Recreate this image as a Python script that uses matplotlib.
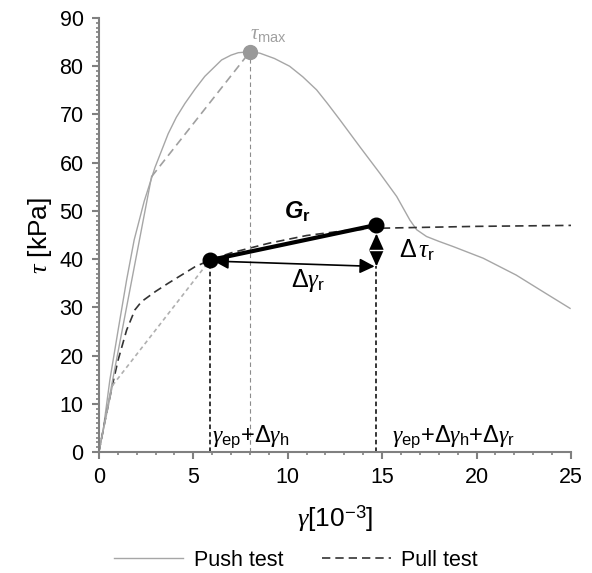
import matplotlib.pyplot as plt
from matplotlib.lines import Line2D

plt.rcParams['font.family'] = ['Liberation Sans', 'DejaVu Sans']
plt.rcParams['mathtext.fontset'] = 'custom'
plt.rcParams['mathtext.rm'] = 'Liberation Sans'
plt.rcParams['mathtext.it'] = 'Liberation Serif:italic'
plt.rcParams['mathtext.bf'] = 'Liberation Sans:bold'
plt.rcParams['mathtext.bfit'] = 'Liberation Sans:italic:bold'

# push test curve (gamma [1e-3], tau [kPa])
push_x = [0, 0.23, 0.58, 1.02, 1.47, 1.87, 2.4, 2.97, 3.67, 4.1, 4.56, 5.1, 5.61, 6.5,
          7.0, 7.38, 8.0, 8.53, 9.3, 10.1, 10.8, 11.53, 12.1, 12.76, 13.82, 14.88,
          15.77, 16.47, 16.83, 17.35, 18.0, 18.77, 20.35, 22.1, 23.5, 24.95]
push_y = [0, 4.6, 14.9, 25.3, 35.7, 44.0, 52.0, 59.0, 66.0, 69.4, 72.3, 75.3, 77.9, 81.3,
          82.3, 82.8, 83.0, 82.7, 81.6, 80.0, 77.8, 75.1, 72.3, 68.9, 63.3, 57.8,
          53.0, 48.1, 46.1, 44.7, 43.7, 42.6, 40.2, 36.7, 33.3, 29.8]

# pull test curve
pull_x = [0, 0.3, 0.7, 1.02, 1.47, 1.91, 2.26, 3.0, 3.67, 5.08, 5.88, 7.0, 9.0, 11.0,
          13.0, 14.7, 15.94, 20.0, 25.0]
pull_y = [0, 6, 13.6, 19.1, 25.3, 29.5, 31.2, 33.3, 35.0, 38.4, 39.8, 41.3, 43.3, 44.9,
          45.9, 46.4, 46.5, 46.8, 47.0]

# characteristic points
tau_max = (8.0, 83.0)
knee_push = (2.79, 57.1)
knee_pull = (0.72, 13.8)
p1 = (5.88, 39.8)
p2 = (14.7, 47.1)
dgr_end = 38.5

fig = plt.figure(figsize=(5.92, 5.73), dpi=100)
ax = fig.add_axes([0.167, 0.211, 0.7975, 0.7576])

ax.plot(push_x, push_y, color='#a6a6a6', lw=1.0, zorder=2)
ax.plot(pull_x, pull_y, color='#333333', lw=1.2, ls=(0, (5, 3)), zorder=2)

# bilinear approximations
ax.plot([0, knee_push[0]], [0, knee_push[1]], color='#a6a6a6', lw=1.0, zorder=2)
ax.plot([knee_push[0], tau_max[0]], [knee_push[1], tau_max[1]], color='#a0a0a0',
        lw=1.2, ls=(0, (5, 3)), zorder=2)
ax.plot([0, knee_pull[0]], [0, knee_pull[1]], color='#a6a6a6', lw=1.0, zorder=2)
ax.plot([knee_pull[0], p1[0]], [knee_pull[1], p1[1]], color='#b0b0b0',
        lw=1.2, ls=(0, (2.5, 2)), zorder=2)

# vertical guide lines
ax.plot([tau_max[0], tau_max[0]], [0, tau_max[1]], color='#8c8c8c', lw=0.8,
        ls=(0, (4, 3)), zorder=2)
ax.plot([p1[0], p1[0]], [0, p1[1]], color='black', lw=1.1, ls=(0, (3, 2)), zorder=2)
ax.plot([p2[0], p2[0]], [0, dgr_end], color='black', lw=1.1, ls=(0, (3, 2)), zorder=2)

# G_r secant
ax.plot([p1[0], p2[0]], [p1[1], p2[1]], color='black', lw=3.0, zorder=3,
        solid_capstyle='round')
ax.plot([p1[0], p2[0]], [p1[1], p2[1]], 'o', color='black', ms=10.5, zorder=4)
ax.plot([tau_max[0]], [tau_max[1]], 'o', color='#999999', ms=10, zorder=4)

# arrows
astyle = dict(arrowstyle='<|-|>,head_length=0.9,head_width=0.45', color='black',
              lw=1.2, mutation_scale=10, shrinkA=0, shrinkB=0)
ax.annotate('', xy=(p2[0] - 0.1, dgr_end), xytext=(p1[0] + 0.2, 39.6), arrowprops=astyle)
ustyle = dict(arrowstyle='-|>,head_length=1.0,head_width=0.45', color='black',
              lw=1.2, mutation_scale=10, shrinkA=0, shrinkB=0)
ax.annotate('', xy=(p2[0], 45.3), xytext=(p2[0], 42.0), arrowprops=ustyle)
ax.annotate('', xy=(p2[0], dgr_end), xytext=(p2[0], 42.0), arrowprops=ustyle)
ax.plot([p2[0] - 0.35, p2[0] + 0.35], [42.0, 42.0], color='white', lw=1.0, zorder=5)

# labels
ax.text(9.0, 86.5, r'$\tau_{\mathrm{max}}$', color='#a0a0a0', fontsize=15,
        ha='center', va='center')
ax.text(10.5, 49.8, r'$\mathbfit{G}_{\mathbf{r}}$', fontsize=17, ha='center', va='center')
ax.text(11.1, 35.5, r'$\Delta\gamma_{\mathrm{r}}$', fontsize=18, ha='center', va='center')
ax.text(15.9, 41.8, r'$\Delta\,\tau_{\mathrm{r}}$', fontsize=18, ha='left', va='center')
ax.text(6.0, 3.2, r'$\gamma_{\mathrm{ep}}$+$\Delta\gamma_{\mathrm{h}}$', fontsize=17,
        ha='left', va='center')
ax.text(15.5, 3.2, r'$\gamma_{\mathrm{ep}}$+$\Delta\gamma_{\mathrm{h}}$+$\Delta\gamma_{\mathrm{r}}$',
        fontsize=17, ha='left', va='center')

ax.set_xlim(0, 25)
ax.set_ylim(0, 90)
ax.set_xticks(range(0, 26, 5))
ax.set_xticks(range(0, 26), minor=True)
ax.set_yticks(range(0, 91, 10))
ax.set_yticks(range(0, 91), minor=True)

for s in ['top', 'right']:
    ax.spines[s].set_visible(False)
for s in ['left', 'bottom']:
    ax.spines[s].set_color('#808080')
    ax.spines[s].set_linewidth(1.5)
ax.tick_params(which='major', length=5, width=1.5, color='#808080', labelsize=15.5, pad=6)
ax.tick_params(which='minor', length=2.5, width=1.2, color='#808080')

ax.set_xlabel(r'$\gamma$[10$^{-3}$]', fontsize=19, labelpad=11)
ax.set_ylabel(r'$\tau$ [kPa]', fontsize=19, labelpad=4)

handles = [Line2D([], [], color='#a6a6a6', lw=1.0),
           Line2D([], [], color='#333333', lw=1.2, ls=(0, (5, 3)))]
fig.legend(handles, ['Push test', 'Pull test'], loc='lower center',
           bbox_to_anchor=(0.5, -0.03), ncol=2, frameon=False, fontsize=15.5,
           handlelength=3.2, columnspacing=1.8, handletextpad=0.5)

fig.savefig('out.png', dpi=100)
